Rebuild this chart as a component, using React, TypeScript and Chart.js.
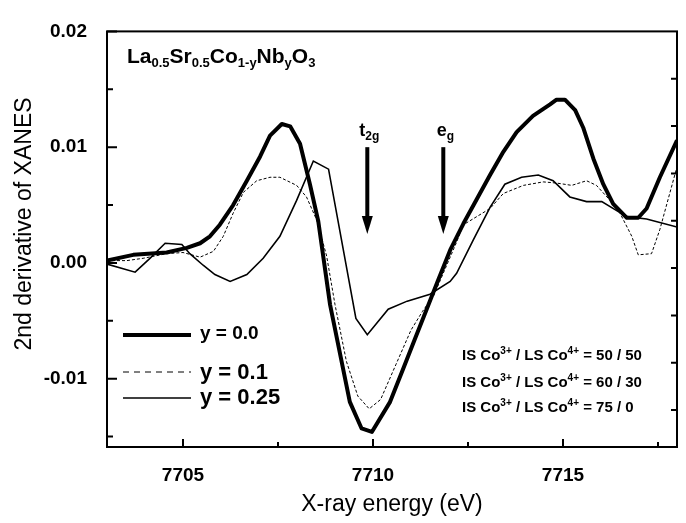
import React, { useEffect, useRef } from "react";
import { Chart, registerables } from "chart.js";

Chart.register(...registerables);

// Second derivative of the Co K-edge XANES, La0.5Sr0.5Co(1-y)Nb(y)O3
const energyY00 = [
  7703.0, 7703.69, 7704.57, 7705.1, 7705.45, 7705.71, 7705.97, 7706.32, 7706.68, 7707.03,
  7707.29, 7707.6, 7707.82, 7708.08, 7708.34, 7708.56, 7708.87, 7709.39, 7709.7, 7709.97,
  7710.45, 7710.8, 7711.1, 7711.4, 7711.7, 7712.03, 7712.38, 7712.73, 7713.08, 7713.43,
  7713.78, 7714.21, 7714.66, 7714.83, 7715.05, 7715.32, 7715.53, 7715.8, 7716.06, 7716.32,
  7716.68, 7716.98, 7717.2, 7717.55, 7718.0,
];
const derivY00 = [
  0.0002, 0.0007, 0.0009, 0.0013, 0.0017, 0.0023, 0.0033, 0.005, 0.0071, 0.0092,
  0.011, 0.012, 0.0118, 0.0103, 0.0068, 0.0036, -0.0036, -0.012, -0.0143, -0.0146,
  -0.012, -0.0091, -0.0066, -0.0041, -0.0016, 0.0011, 0.0034, 0.0055, 0.0076, 0.0096,
  0.0113, 0.0127, 0.0137, 0.0141, 0.0141, 0.0132, 0.0117, 0.009, 0.0068, 0.0051,
  0.0039, 0.0039, 0.0047, 0.0074, 0.0106,
];

const energyY01 = [
  7703.0, 7703.52, 7703.95, 7704.57, 7705.0, 7705.45, 7705.8, 7706.06, 7706.32, 7706.59,
  7706.94, 7707.29, 7707.55, 7707.99, 7708.25, 7708.52, 7708.78, 7709.0, 7709.3, 7709.6,
  7709.9, 7710.2, 7710.6, 7711.0, 7711.3, 7711.6, 7711.9, 7712.2, 7712.38, 7712.73,
  7713.08, 7713.43, 7713.96, 7714.48, 7714.83, 7715.23, 7715.62, 7715.88, 7716.24, 7716.5,
  7716.81, 7716.98, 7717.33, 7717.55, 7718.0,
];
const derivY01 = [
  0.0002, 0.0002, 0.0004, 0.0008, 0.0009, 0.0005, 0.001, 0.0023, 0.0043, 0.0061,
  0.0071, 0.0074, 0.0074, 0.0067, 0.0057, 0.0037, 0.0006, -0.0036, -0.0085, -0.0115,
  -0.0126, -0.0118, -0.0088, -0.0058, -0.0042, -0.0028, -0.0005, 0.0018, 0.0033, 0.004,
  0.0047, 0.006, 0.0067, 0.007, 0.0069, 0.0067, 0.0071, 0.0067, 0.0054, 0.0043,
  0.0023, 0.0007, 0.0008, 0.0029, 0.0083,
];

const energyY025 = [
  7703.0, 7703.74, 7704.13, 7704.53, 7704.97, 7705.18, 7705.53, 7705.84, 7706.24, 7706.68,
  7707.11, 7707.55, 7707.99, 7708.43, 7708.83, 7709.55, 7709.85, 7710.4, 7710.9, 7711.5,
  7712.03, 7712.2, 7712.64, 7713.08, 7713.47, 7713.91, 7714.35, 7714.74, 7715.18, 7715.62,
  7716.02, 7716.37, 7716.68, 7717.2, 7718.0,
];
const derivY025 = [
  -0.0001, -0.0008, 0.0004, 0.0017, 0.0016, 0.0008, -0.0002, -0.001, -0.0016, -0.001,
  0.0004, 0.0023, 0.0054, 0.0088, 0.0081, -0.0048, -0.0062, -0.004, -0.0033, -0.0027,
  -0.0016, -0.0009, 0.002, 0.0048, 0.0068, 0.0074, 0.0076, 0.0071, 0.0057, 0.0053,
  0.0053, 0.0046, 0.004, 0.0038, 0.0031,
];

const seriesLabels = ["y = 0.0", "y = 0.1", "y = 0.25"];
const xTickValues = [7705, 7707.5, 7710, 7712.5, 7715, 7717.5];
const xLabelValues = [7705, 7710, 7715];
const yTickValues = [0.02, 0.015, 0.01, 0.005, 0.0, -0.005, -0.01, -0.015];
const yLabelValues = [0.02, 0.01, 0.0, -0.01];
const rightTickValues = [1, 2, 3, 4, 5, 6, 7, 8];
const xRange = [7703, 7718];
const yRange = [-0.0159, 0.02];
const rightAxisRange = [0, 8.78];

const arrowEnergies = [7709.85, 7711.85];
const arrowLabels = [
  ["t", "2g"],
  ["e", "g"],
];
const arrowFrom = 0.01;
const arrowTo = 0.0025;

const spinRatios = ["50 / 50", "60 / 30", "75 / 0"];

const FONT = '"Liberation Sans", Arial, Helvetica, sans-serif';

type Part = [string, number, number];

function partsWidth(ctx: CanvasRenderingContext2D, parts: Part[]) {
  let w = 0;
  for (const [t, size] of parts) {
    ctx.font = `bold ${size}px ${FONT}`;
    w += ctx.measureText(t).width;
  }
  return w;
}

function drawParts(ctx: CanvasRenderingContext2D, x: number, y: number, parts: Part[]) {
  let cx = x;
  for (const [t, size, dy] of parts) {
    ctx.font = `bold ${size}px ${FONT}`;
    ctx.fillText(t, cx, y + dy);
    cx += ctx.measureText(t).width;
  }
}

const isLabeled = (list: number[], v: number) => list.some((l) => Math.abs(l - v) < 1e-9);

const decorations = {
  id: "decorations",
  afterDraw(chart: any) {
    const { ctx, chartArea: a, scales } = chart;
    const xs = scales.x;
    const ys = scales.y;
    const yr = scales.yRight;
    ctx.save();
    ctx.strokeStyle = "#000";
    ctx.fillStyle = "#000";

    // frame
    ctx.lineWidth = 2;
    ctx.strokeRect(a.left, a.top, a.right - a.left, a.bottom - a.top);

    // inward tick marks
    ctx.beginPath();
    for (const t of xs.ticks) {
      const px = xs.getPixelForValue(t.value);
      const len = isLabeled(xLabelValues, t.value) ? 8 : 5;
      ctx.moveTo(px, a.bottom);
      ctx.lineTo(px, a.bottom - len);
    }
    for (const t of ys.ticks) {
      const py = ys.getPixelForValue(t.value);
      const len = isLabeled(yLabelValues, t.value) ? 10 : 6;
      ctx.moveTo(a.left, py);
      ctx.lineTo(a.left + len, py);
    }
    for (const t of yr.ticks) {
      const py = yr.getPixelForValue(t.value);
      ctx.moveTo(a.right, py);
      ctx.lineTo(a.right - 6, py);
    }
    ctx.stroke();

    // axis titles
    ctx.textBaseline = "middle";
    ctx.textAlign = "center";
    ctx.font = `23px ${FONT}`;
    ctx.fillText("X-ray energy (eV)", (a.left + a.right) / 2, 505);
    ctx.save();
    ctx.translate(25, 224);
    ctx.rotate(-Math.PI / 2);
    ctx.fillText("2nd derivative of XANES", 0, 0);
    ctx.restore();

    // composition
    ctx.textAlign = "left";
    ctx.textBaseline = "alphabetic";
    drawParts(ctx, 127, 63, [
      ["La", 21, 0],
      ["0.5", 13, 4],
      ["Sr", 21, 0],
      ["0.5", 13, 4],
      ["Co", 21, 0],
      ["1-y", 13, 4],
      ["Nb", 21, 0],
      ["y", 13, 4],
      ["O", 21, 0],
      ["3", 13, 4],
    ]);

    // t2g / eg arrows
    arrowEnergies.forEach((e, i) => {
      const px = xs.getPixelForValue(e);
      const top = ys.getPixelForValue(arrowFrom);
      const tip = ys.getPixelForValue(arrowTo);
      const head = 18;
      ctx.lineWidth = 4;
      ctx.beginPath();
      ctx.moveTo(px, top);
      ctx.lineTo(px, tip - head + 2);
      ctx.stroke();
      ctx.beginPath();
      ctx.moveTo(px - 5.5, tip - head);
      ctx.lineTo(px + 5.5, tip - head);
      ctx.lineTo(px, tip);
      ctx.closePath();
      ctx.fill();
      const [main, sub] = arrowLabels[i];
      const parts: Part[] = [
        [main, 18, 0],
        [sub, 12, 4],
      ];
      const w = partsWidth(ctx, parts);
      drawParts(ctx, px - w / 2 + 2, 136, parts);
    });

    // legend
    const legendY = [335, 372, 398];
    const legendTextY = [334, 373, 398];
    const legendSize = [19, 22, 22];
    const legendWidth = [4, 1, 1.6];
    legendY.forEach((ly, i) => {
      ctx.lineWidth = legendWidth[i];
      ctx.setLineDash(i === 1 ? [6, 5] : []);
      ctx.beginPath();
      ctx.moveTo(123, ly);
      ctx.lineTo(191, ly);
      ctx.stroke();
      ctx.setLineDash([]);
      ctx.textBaseline = "middle";
      ctx.font = `bold ${legendSize[i]}px ${FONT}`;
      ctx.fillText(seriesLabels[i], 200, legendTextY[i]);
    });

    // spin-state ratios
    ctx.textBaseline = "alphabetic";
    const ratioY = [360, 386.5, 412];
    spinRatios.forEach((r, i) => {
      drawParts(ctx, 462, ratioY[i], [
        ["IS Co", 15, 0],
        ["3+", 10, -6],
        [" / LS Co", 15, 0],
        ["4+", 10, -6],
        [" = " + r, 15, 0],
      ]);
    });

    ctx.restore();
  },
};

const toPoints = (xs: number[], ys: number[]) => xs.map((x, i) => ({ x, y: ys[i] }));
const fixedTicks = (values: number[]) => (s: any) => {
  s.ticks = values.map((value) => ({ value }));
};

export default function App() {
  const canvasRef = useRef<HTMLCanvasElement | null>(null);

  useEffect(() => {
    const canvas = canvasRef.current;
    if (!canvas) return;
    const tickFont = { family: FONT, size: 19, weight: "bold" as const };
    const chart = new Chart(canvas, {
      type: "line",
      data: {
        datasets: [
          {
            label: seriesLabels[0],
            data: toPoints(energyY00, derivY00),
            borderColor: "#000",
            borderWidth: 4,
            pointRadius: 0,
            tension: 0,
            borderJoinStyle: "round",
          },
          {
            label: seriesLabels[1],
            data: toPoints(energyY01, derivY01),
            borderColor: "#000",
            borderWidth: 1,
            borderDash: [3, 2],
            pointRadius: 0,
            tension: 0,
          },
          {
            label: seriesLabels[2],
            data: toPoints(energyY025, derivY025),
            borderColor: "#000",
            borderWidth: 1.6,
            pointRadius: 0,
            tension: 0,
          },
        ],
      },
      options: {
        responsive: false,
        animation: false,
        devicePixelRatio: 1,
        events: [],
        layout: { padding: { top: 19.5, right: 9, left: 0, bottom: 0 } },
        plugins: { legend: { display: false }, tooltip: { enabled: false } },
        scales: {
          x: {
            type: "linear",
            min: xRange[0],
            max: xRange[1],
            grid: { display: false, drawTicks: false },
            border: { display: false },
            afterBuildTicks: fixedTicks(xTickValues),
            ticks: {
              autoSkip: false,
              maxRotation: 0,
              padding: 17,
              color: "#000",
              font: tickFont,
              callback: (v: any) => (isLabeled(xLabelValues, Number(v)) ? String(Math.round(Number(v))) : ""),
            },
            afterFit: (s: any) => {
              s.height = 76;
            },
          },
          y: {
            type: "linear",
            min: yRange[0],
            max: yRange[1],
            grid: { display: false, drawTicks: false },
            border: { display: false },
            afterBuildTicks: fixedTicks(yTickValues),
            ticks: {
              autoSkip: false,
              padding: 20,
              color: "#000",
              font: tickFont,
              callback: (v: any) => (isLabeled(yLabelValues, Number(v)) ? Number(v).toFixed(2) : ""),
            },
            afterFit: (s: any) => {
              s.width = 107;
            },
          },
          yRight: {
            type: "linear",
            position: "right",
            reverse: true,
            min: rightAxisRange[0],
            max: rightAxisRange[1],
            grid: { display: false, drawTicks: false },
            border: { display: false },
            afterBuildTicks: fixedTicks(rightTickValues),
            ticks: { display: false },
            afterFit: (s: any) => {
              s.width = 0;
            },
          },
        },
      },
      plugins: [decorations],
    });
    return () => chart.destroy();
  }, []);

  return (
    <div style={{ position: "absolute", left: 0, top: 0, width: 686, height: 523, background: "#fff" }}>
      <canvas ref={canvasRef} width={686} height={523} style={{ display: "block" }} />
    </div>
  );
}
